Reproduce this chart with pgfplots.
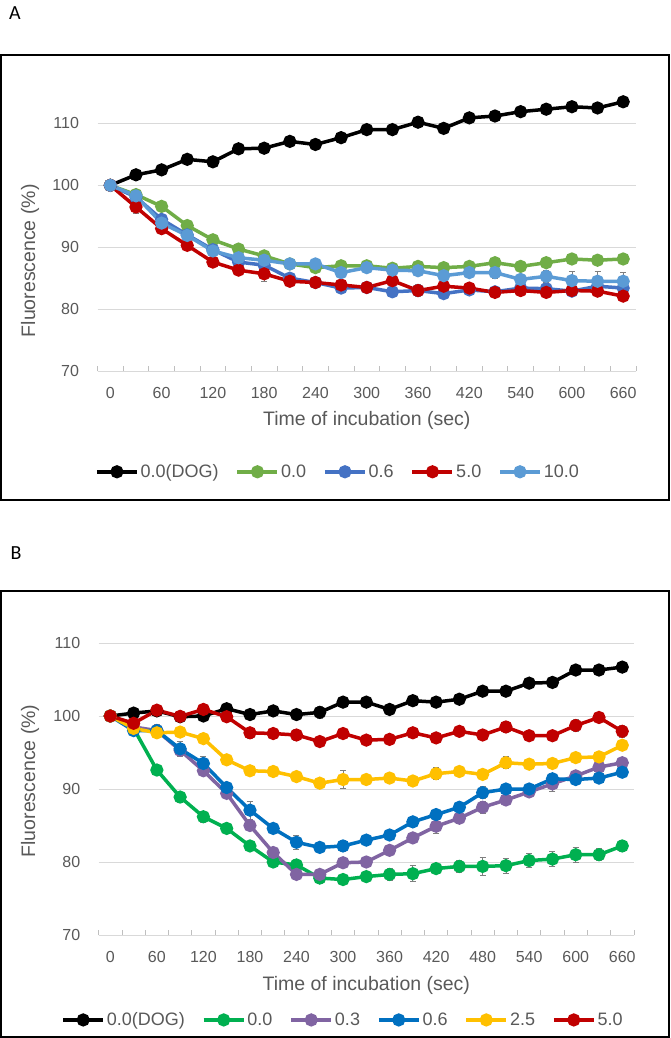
\documentclass[border=0pt]{standalone}
\usepackage{pgfplots}
\pgfplotsset{compat=1.18}
\usepackage{pgfplotstable}
\usepackage{fontspec}
\setmainfont{Liberation Sans}
\newfontfamily\carlito{Carlito}
\definecolor{txt}{HTML}{595959}
\definecolor{gridc}{HTML}{D9D9D9}
\definecolor{tickc}{HTML}{BFBFBF}
\definecolor{errc}{HTML}{7F7F7F}
\definecolor{aGreen}{HTML}{70AD47}
\definecolor{aBlue}{HTML}{4472C4}
\definecolor{aRed}{HTML}{C00000}
\definecolor{aLBlue}{HTML}{5B9BD5}
\definecolor{bGreen}{HTML}{00B050}
\definecolor{bPurple}{HTML}{8064A2}
\definecolor{bBlue}{HTML}{0070C0}
\definecolor{bYellow}{HTML}{FFC000}
\definecolor{bRed}{HTML}{C00000}

\pgfplotstableread{
x  bk    bke  gr    gre  bl    ble  rd    rde  lb    lbe
0  100   0.0  100   0.0  100   0.0  100   0.0  100   0.0
1  101.7 0.6  98.5  0.4  98.1  0.4  96.5  1.1  98.3  0.4
2  102.5 0.5  96.6  0.4  94.5  0.5  93.0  0.4  93.9  0.4
3  104.2 0.5  93.5  0.4  92.0  0.4  90.3  0.4  91.9  0.4
4  103.8 0.5  91.2  0.4  89.6  0.4  87.6  0.6  89.4  0.4
5  105.9 0.5  89.7  0.4  87.6  0.4  86.3  0.4  88.3  0.4
6  106.0 0.5  88.6  0.4  87.1  0.4  85.7  1.2  87.9  0.4
7  107.1 0.7  87.3  0.4  85.0  0.4  84.5  0.6  87.3  0.4
8  106.6 0.6  86.7  0.4  84.3  0.4  84.3  0.6  87.3  0.5
9  107.7 0.5  87.0  0.4  83.4  0.4  83.9  0.4  85.9  0.4
10 109.0 0.5  87.0  0.4  83.5  0.4  83.5  0.4  86.7  0.4
11 109.0 0.5  86.6  0.4  82.8  0.4  84.6  0.4  86.3  0.4
12 110.2 0.8  86.9  0.4  83.0  0.4  83.0  1.0  86.2  0.4
13 109.2 0.5  86.7  0.4  82.5  0.4  83.7  0.4  85.4  0.4
14 110.9 0.5  86.9  0.4  83.1  0.4  83.4  0.4  85.9  0.4
15 111.2 0.6  87.5  0.4  82.8  0.4  82.7  0.8  85.9  1.0
16 111.9 0.8  86.9  0.4  83.4  0.4  83.0  0.4  84.8  0.8
17 112.3 0.8  87.5  0.4  83.3  0.4  82.7  0.4  85.3  1.0
18 112.7 0.5  88.1  0.6  82.9  0.4  83.0  0.6  84.6  1.5
19 112.5 0.5  87.9  0.5  83.7  0.4  82.9  0.8  84.5  1.6
20 113.5 0.5  88.1  0.5  83.4  0.4  82.1  0.5  84.5  1.5
}\dataA

\pgfplotstableread{
x  bk    bke  gr    gre  pu    pue  bl    ble  ye    yee  rd    rde
0  100   0.0  100   0.0  100   0.0  100   0.0  100   0.0  100   0.0
1  100.4 0.3  98.3  0.4  98.5  0.4  98.0  0.4  98.3  0.4  99.0  0.4
2  100.7 0.4  92.6  0.6  98.0  0.5  98.0  0.8  97.7  0.4  100.8 0.4
3  99.9  0.4  88.9  0.7  95.3  0.5  95.5  1.0  97.8  0.4  99.95 0.4
4  100.0 0.4  86.2  0.8  92.5  0.5  93.5  1.0  96.9  0.7  100.9 0.4
5  101.0 0.4  84.6  0.7  89.4  0.5  90.2  0.6  94.0  0.4  99.9  0.4
6  100.2 0.4  82.2  0.5  85.0  0.6  87.1  1.2  92.5  0.6  97.7  0.8
7  100.7 0.4  80.0  0.5  81.3  0.6  84.6  0.6  92.4  0.6  97.6  0.4
8  100.2 0.4  79.6  0.8  78.3  0.4  82.7  1.0  91.7  0.4  97.4  0.8
9  100.5 0.8  77.8  0.7  78.3  0.5  82.0  0.5  90.8  0.4  96.5  0.6
10 101.9 0.4  77.6  0.5  79.9  0.4  82.2  0.7  91.3  1.2  97.6  0.4
11 101.9 0.4  78.0  0.5  80.0  0.4  83.0  0.6  91.3  0.4  96.7  0.4
12 100.9 0.4  78.3  0.8  81.6  0.5  83.7  0.4  91.5  0.4  96.8  0.4
13 102.1 0.4  78.4  1.1  83.3  0.5  85.5  0.4  91.1  0.4  97.7  0.4
14 101.9 0.4  79.1  0.5  84.9  1.0  86.5  0.4  92.1  0.8  97.0  0.4
15 102.3 0.4  79.4  0.8  86.0  0.7  87.5  0.4  92.4  0.4  97.9  0.4
16 103.4 0.4  79.4  1.2  87.5  0.8  89.5  0.8  92.0  0.4  97.4  0.4
17 103.4 0.4  79.5  1.0  88.5  0.5  90.0  0.4  93.6  0.8  98.5  0.7
18 104.5 0.4  80.2  1.0  89.6  0.5  90.0  0.4  93.4  0.4  97.3  0.4
19 104.6 0.4  80.4  1.0  90.7  1.0  91.4  0.8  93.5  0.4  97.3  0.6
20 106.3 0.4  81.0  1.0  91.8  0.5  91.3  0.5  94.3  0.4  98.7  0.8
21 106.3 0.4  81.0  0.8  93.0  0.5  91.5  0.5  94.4  0.4  99.8  0.4
22 106.7 0.4  82.2  0.7  93.6  0.6  92.3  0.6  96.0  0.6  97.9  0.8
}\dataB

\pgfplotsset{
  panel/.style={
    scale only axis,
    xmin=-0.5, ymin=70,
    ytick={70,80,90,100,110},
    ymajorgrids,
    grid style={draw=gridc, line width=1pt},
    separate axis lines,
    axis x line*=bottom, axis y line*=left,
    y axis line style={draw=none},
    x axis line style={draw=gridc, line width=1pt},
    ytick style={draw=none},
    major x tick style={draw=none},
    minor x tick style={draw=tickc, line width=0.8pt},
    minor tick length=5pt, tick align=inside,
    tick label style={font=\fontsize{16}{19}\selectfont, text=txt},
    yticklabel style={xshift=-15pt},
    xticklabel style={yshift=-13pt},
    /pgf/number format/assume math mode=true,
    legend cell align=left,
    legend columns=-1,
    legend style={draw=none, fill=none, inner sep=0pt,
      font=\fontsize{18}{21}\selectfont, text=txt,
      /tikz/every even column/.append style={column sep=15pt}},
    legend image code/.code={\draw[##1, mark repeat=2, mark phase=2]
      plot coordinates {(0pt,0pt) (20pt,0pt) (40pt,0pt)};},
    every axis plot/.append style={line width=3.5pt, mark=*, mark size=4.8pt,
      mark options={solid},
      error bars/y dir=both, error bars/y explicit,
      error bars/error bar style={draw=errc, line width=0.8pt},
      error bars/error mark options={rotate=90, draw=errc, mark size=3pt, line width=0.8pt}},
    clip=false,
  }
}

\begin{document}
\begin{tikzpicture}
\useasboundingbox (0pt,0pt) rectangle (670pt,-1038pt);
\fill[white] (0pt,0pt) rectangle (670pt,-1038pt);
\node[font=\carlito\fontsize{20}{24}\selectfont] at (15pt,-13pt) {A};
\node[font=\carlito\fontsize{20}{24}\selectfont] at (16pt,-553pt) {B};
\draw[line width=1.5pt] (1pt,-55pt) rectangle (669pt,-500pt);
\draw[line width=1.5pt] (1pt,-591pt) rectangle (669pt,-1037pt);

% Panel A
\begin{axis}[panel,
  at={(97.5pt,-371pt)}, anchor=south west,
  width=538.5pt, height=284.7pt,
  xmax=20.5, ymax=116,
  xtick={0,2,...,20},
  xticklabels={0,60,120,180,240,300,360,420,540,600,660},
  minor xtick={-0.5,0.5,...,20.5},
  xlabel={Time of incubation (sec)},
  ylabel={Fluorescence (\%)},
  every axis x label/.style={at={(axis description cs:0.5,0)}, anchor=center, yshift=-49pt,
    font=\fontsize{19.5}{23}\selectfont, text=txt},
  every axis y label/.style={at={(axis cs:-3.13,87.8)}, rotate=90, anchor=center,
    font=\fontsize{19.5}{23}\selectfont, text=txt},
  legend style={at={(axis description cs:0.4466,-0.354)}, anchor=center},
]
\addplot[black] table[x=x, y=bk, y error=bke] {\dataA};
\addlegendentry{0.0(DOG)}
\addplot[aGreen] table[x=x, y=gr, y error=gre] {\dataA};
\addlegendentry{0.0}
\addplot[aBlue] table[x=x, y=bl, y error=ble] {\dataA};
\addlegendentry{0.6}
\addplot[aRed] table[x=x, y=rd, y error=rde] {\dataA};
\addlegendentry{5.0}
\addplot[aLBlue] table[x=x, y=lb, y error=lbe] {\dataA};
\addlegendentry{10.0}
\end{axis}

% Panel B
\begin{axis}[panel,
  at={(98.7pt,-935pt)}, anchor=south west,
  width=535.2pt, height=306.6pt,
  xmax=22.5, ymax=112,
  xtick={0,2,...,22},
  xticklabels={0,60,120,180,240,300,360,420,480,540,600,660},
  minor xtick={-0.5,0.5,...,22.5},
  xlabel={Time of incubation (sec)},
  ylabel={Fluorescence (\%)},
  every axis x label/.style={at={(axis description cs:0.5,0)}, anchor=center, yshift=-50pt,
    font=\fontsize{19.5}{23}\selectfont, text=txt},
  every axis y label/.style={at={(axis cs:-3.45,91.1)}, rotate=90, anchor=center,
    font=\fontsize{19.5}{23}\selectfont, text=txt},
  legend style={at={(axis description cs:0.4565,-0.277)}, anchor=center},
]
\addplot[black] table[x=x, y=bk, y error=bke] {\dataB};
\addlegendentry{0.0(DOG)}
\addplot[bGreen] table[x=x, y=gr, y error=gre] {\dataB};
\addlegendentry{0.0}
\addplot[bPurple] table[x=x, y=pu, y error=pue] {\dataB};
\addlegendentry{0.3}
\addplot[bBlue] table[x=x, y=bl, y error=ble] {\dataB};
\addlegendentry{0.6}
\addplot[bYellow] table[x=x, y=ye, y error=yee] {\dataB};
\addlegendentry{2.5}
\addplot[bRed] table[x=x, y=rd, y error=rde] {\dataB};
\addlegendentry{5.0}
\end{axis}
\end{tikzpicture}
\end{document}
